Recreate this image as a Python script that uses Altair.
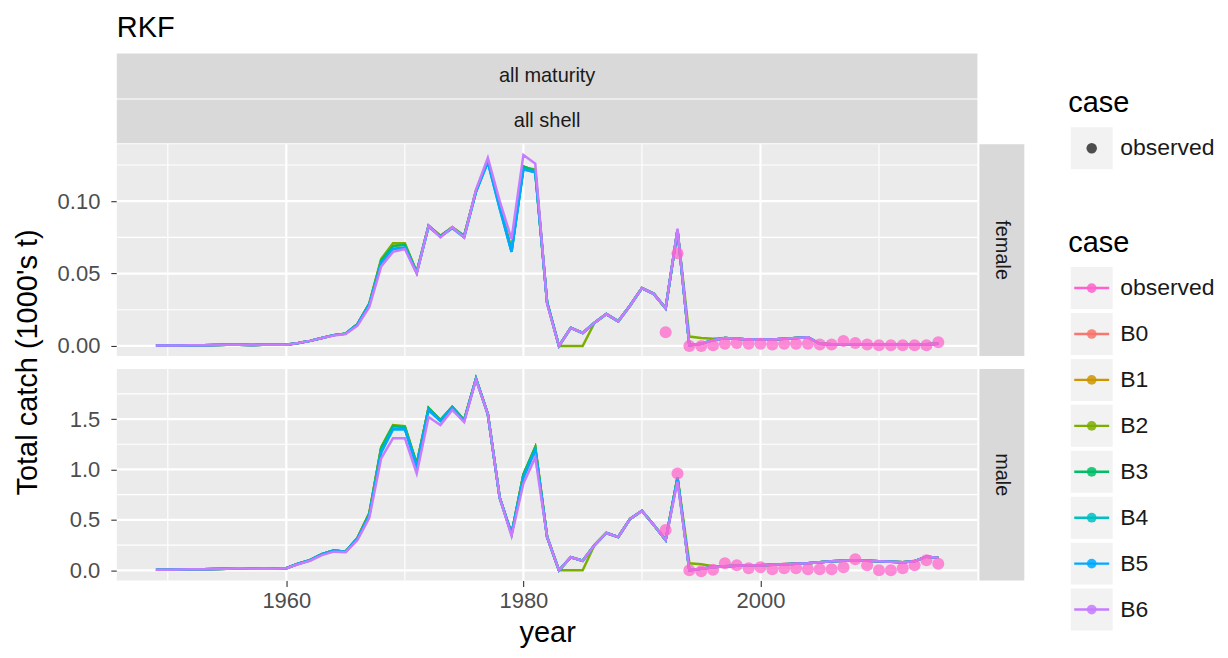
import altair as alt
import pandas as pd

# ---------------- data ----------------
years = list(range(1949, 2016))
obs_years = list(range(1992, 2016))

cases = ["observed", "B0", "B1", "B2", "B3", "B4", "B5", "B6"]
case_colors = ["#FF61CC", "#F8766D", "#CD9600", "#7CAE00", "#00BE67",
               "#00BFC4", "#00A9FF", "#C77CFF"]
model_cases = ["B0", "B1", "B2", "B3", "B4", "B5", "B6"]

# female, 1949-2015
female_base = [
    0.0003, 0.0003, 0.0004, 0.0005, 0.0005, 0.0006, 0.0008, 0.0009, 0.0007, 0.0008,
    0.0008, 0.0009, 0.0020, 0.0035, 0.0055, 0.0075, 0.0085, 0.0150, 0.0290, 0.0590,
    0.0690, 0.0700, 0.0510, 0.0830, 0.0760, 0.0820, 0.0760, 0.1070, 0.1280, 0.0970,
    0.0660, 0.1240, 0.1210, 0.0300, 0.0000, 0.0125, 0.0090, 0.0160, 0.0220, 0.0170,
    0.0280, 0.0400, 0.0360, 0.0260, 0.0800, 0.0005, 0.0015, 0.0040, 0.0055, 0.0050,
    0.0045, 0.0045, 0.0045, 0.0050, 0.0055, 0.0060, 0.0015, 0.0012, 0.0012, 0.0012,
    0.0010, 0.0010, 0.0010, 0.0010, 0.0010, 0.0012, 0.0015]
female_B2 = [
    0.0003, 0.0003, 0.0004, 0.0005, 0.0005, 0.0006, 0.0008, 0.0009, 0.0007, 0.0008,
    0.0008, 0.0009, 0.0020, 0.0035, 0.0055, 0.0075, 0.0085, 0.0150, 0.0295, 0.0600,
    0.0710, 0.0710, 0.0510, 0.0830, 0.0760, 0.0820, 0.0760, 0.1070, 0.1280, 0.0970,
    0.0660, 0.1230, 0.1220, 0.0300, 0.0000, 0.0000, 0.0000, 0.0160, 0.0220, 0.0170,
    0.0280, 0.0400, 0.0360, 0.0260, 0.0800, 0.0065, 0.0055, 0.0050, 0.0055, 0.0050,
    0.0045, 0.0045, 0.0045, 0.0050, 0.0055, 0.0060, 0.0015, 0.0012, 0.0012, 0.0012,
    0.0010, 0.0010, 0.0010, 0.0010, 0.0010, 0.0012, 0.0015]
female_teal = [
    0.0003, 0.0003, 0.0004, 0.0005, 0.0005, 0.0006, 0.0008, 0.0009, 0.0007, 0.0008,
    0.0008, 0.0009, 0.0020, 0.0035, 0.0055, 0.0075, 0.0085, 0.0150, 0.0285, 0.0570,
    0.0670, 0.0680, 0.0505, 0.0825, 0.0755, 0.0815, 0.0750, 0.1065, 0.1270, 0.0950,
    0.0650, 0.1220, 0.1200, 0.0300, 0.0000, 0.0125, 0.0090, 0.0160, 0.0220, 0.0170,
    0.0280, 0.0400, 0.0360, 0.0260, 0.0800, 0.0005, 0.0015, 0.0040, 0.0055, 0.0050,
    0.0045, 0.0045, 0.0045, 0.0050, 0.0055, 0.0060, 0.0015, 0.0012, 0.0012, 0.0012,
    0.0010, 0.0010, 0.0010, 0.0010, 0.0010, 0.0012, 0.0015]
female_B6 = [
    0.0003, 0.0003, 0.0004, 0.0005, 0.0005, 0.0006, 0.0008, 0.0009, 0.0007, 0.0008,
    0.0008, 0.0009, 0.0020, 0.0035, 0.0055, 0.0072, 0.0082, 0.0140, 0.0270, 0.0550,
    0.0650, 0.0670, 0.0500, 0.0830, 0.0750, 0.0820, 0.0750, 0.1080, 0.1300, 0.1000,
    0.0740, 0.1320, 0.1260, 0.0290, 0.0000, 0.0125, 0.0090, 0.0160, 0.0220, 0.0170,
    0.0280, 0.0400, 0.0360, 0.0260, 0.0810, 0.0005, 0.0015, 0.0040, 0.0055, 0.0050,
    0.0045, 0.0045, 0.0045, 0.0050, 0.0055, 0.0060, 0.0015, 0.0012, 0.0012, 0.0012,
    0.0010, 0.0010, 0.0010, 0.0010, 0.0010, 0.0012, 0.0015]

# male, 1949-2015
male_base = [
    0.005, 0.005, 0.008, 0.010, 0.010, 0.012, 0.015, 0.020, 0.015, 0.018,
    0.016, 0.020, 0.065, 0.100, 0.160, 0.195, 0.185, 0.320, 0.560, 1.210,
    1.430, 1.420, 1.050, 1.610, 1.490, 1.620, 1.490, 1.900, 1.550, 0.720,
    0.360, 0.950, 1.220, 0.330, 0.000, 0.130, 0.095, 0.250, 0.370, 0.330,
    0.510, 0.590, 0.450, 0.300, 0.920, 0.000, 0.015, 0.030, 0.040, 0.045,
    0.050, 0.050, 0.055, 0.060, 0.065, 0.070, 0.080, 0.090, 0.095, 0.100,
    0.095, 0.090, 0.085, 0.080, 0.090, 0.135, 0.125]
male_B2 = [
    0.005, 0.005, 0.008, 0.010, 0.010, 0.012, 0.015, 0.020, 0.015, 0.018,
    0.016, 0.020, 0.065, 0.100, 0.160, 0.195, 0.185, 0.320, 0.570, 1.220,
    1.440, 1.430, 1.060, 1.610, 1.490, 1.620, 1.490, 1.900, 1.550, 0.720,
    0.360, 0.950, 1.220, 0.330, 0.000, 0.000, 0.000, 0.250, 0.370, 0.330,
    0.510, 0.590, 0.450, 0.300, 0.920, 0.070, 0.060, 0.040, 0.040, 0.045,
    0.050, 0.050, 0.055, 0.060, 0.065, 0.070, 0.080, 0.090, 0.095, 0.100,
    0.095, 0.090, 0.085, 0.080, 0.090, 0.135, 0.125]
male_teal = [
    0.005, 0.005, 0.008, 0.010, 0.010, 0.012, 0.015, 0.020, 0.015, 0.018,
    0.016, 0.020, 0.065, 0.100, 0.160, 0.195, 0.185, 0.315, 0.545, 1.170,
    1.400, 1.400, 1.030, 1.590, 1.480, 1.610, 1.480, 1.900, 1.550, 0.720,
    0.360, 0.920, 1.190, 0.330, 0.000, 0.130, 0.095, 0.250, 0.370, 0.330,
    0.510, 0.590, 0.450, 0.300, 0.910, 0.000, 0.015, 0.030, 0.040, 0.045,
    0.050, 0.050, 0.055, 0.060, 0.065, 0.070, 0.080, 0.090, 0.095, 0.100,
    0.095, 0.090, 0.085, 0.080, 0.090, 0.135, 0.125]
male_B6 = [
    0.005, 0.005, 0.008, 0.010, 0.010, 0.012, 0.015, 0.020, 0.015, 0.018,
    0.016, 0.020, 0.060, 0.095, 0.150, 0.185, 0.180, 0.300, 0.520, 1.110,
    1.310, 1.310, 0.960, 1.520, 1.440, 1.590, 1.470, 1.890, 1.550, 0.720,
    0.340, 0.860, 1.120, 0.330, 0.000, 0.130, 0.095, 0.250, 0.370, 0.330,
    0.510, 0.590, 0.450, 0.300, 0.880, 0.000, 0.015, 0.030, 0.040, 0.045,
    0.050, 0.050, 0.055, 0.060, 0.065, 0.070, 0.080, 0.090, 0.095, 0.100,
    0.095, 0.090, 0.085, 0.080, 0.090, 0.135, 0.125]

# observed, 1992-2015
obs_female = [0.0095, 0.0640, 0.0000, 0.0000, 0.0005, 0.0015, 0.0020, 0.0015,
              0.0015, 0.0010, 0.0015, 0.0015, 0.0015, 0.0010, 0.0010, 0.0035,
              0.0020, 0.0010, 0.0005, 0.0005, 0.0005, 0.0005, 0.0005, 0.0025]
obs_male = [0.40, 0.96, 0.00, -0.01, 0.005, 0.07, 0.05, 0.02,
            0.03, 0.01, 0.02, 0.02, 0.01, 0.01, 0.01, 0.03,
            0.11, 0.05, 0.00, 0.00, 0.02, 0.05, 0.10, 0.065]

female_series = {"B0": female_base, "B1": female_base, "B2": female_B2,
                 "B3": female_base, "B4": female_teal, "B5": female_teal,
                 "B6": female_B6}
male_series = {"B0": male_base, "B1": male_base, "B2": male_B2,
               "B3": male_base, "B4": male_teal, "B5": male_teal,
               "B6": male_B6}

x_major = [1960, 1980, 2000]
x_minor = [1950, 1970, 1990, 2010]
x_domain = [1945.7, 2018.3]
female_major = [0.0, 0.05, 0.10]
female_minor = [0.025, 0.075, 0.125]
female_domain = [-0.0069, 0.1393]
male_major = [0.0, 0.5, 1.0, 1.5]
male_minor = [0.25, 0.75, 1.25, 1.75]
male_domain = [-0.102, 1.997]

title_text = "RKF"
y_title = "Total catch (1000's t)"
x_title = "year"
top_strips = ["all maturity", "all shell"]

# ---------------- style ----------------
FONT = "Liberation Sans"
PW, PH = 862, 212
GAP = 13
PANEL_BG = "#EBEBEB"
STRIP_BG = "#D9D9D9"
NOVIEW = alt.ViewBackground(strokeWidth=0, stroke="transparent")

color_scale = alt.Scale(domain=cases, range=case_colors)
x_scale = alt.Scale(domain=x_domain, nice=False, zero=False)


def make_panel(sex, series, obs_vals, y_domain, y_major, y_minor, y_fmt, is_top):
    rows = []
    for c in model_cases:
        for yr, v in zip(years, series[c]):
            rows.append({"case": c, "year": yr, "value": v})
    lines_df = pd.DataFrame(rows)
    obs_df = pd.DataFrame({"case": "observed", "year": obs_years, "value": obs_vals})

    y_scale = alt.Scale(domain=y_domain, nice=False, zero=False)
    y_axis = alt.Axis(values=y_major, format=y_fmt, title=None, grid=False,
                      domain=False, tickColor="#333333", tickSize=6, tickWidth=1.1,
                      labelFontSize=22, labelColor="#4D4D4D", labelPadding=11,
                      labelFont=FONT)
    if is_top:
        x_axis = None
    else:
        x_axis = alt.Axis(values=x_major, format="d", title=x_title, grid=False,
                          domain=False, tickColor="#333333", tickSize=6,
                          tickWidth=1.1, labelFontSize=22, labelColor="#4D4D4D",
                          labelPadding=4, labelFont=FONT, titleFontSize=29,
                          titleFontWeight="normal", titleColor="#000000",
                          titleFont=FONT, titlePadding=7)

    X = lambda f: alt.X(f, scale=x_scale, axis=x_axis)
    Y = lambda f: alt.Y(f, scale=y_scale, axis=y_axis)

    one = pd.DataFrame({"k": [sex]})
    bg = alt.Chart(one).mark_rect(color=PANEL_BG).encode(
        x=alt.value(0), x2=alt.value(PW), y=alt.value(0), y2=alt.value(PH))

    vmin = alt.Chart(pd.DataFrame({"v": x_minor})).mark_rule(
        color="white", strokeWidth=1.1).encode(x=X("v:Q"))
    vmaj = alt.Chart(pd.DataFrame({"v": x_major})).mark_rule(
        color="white", strokeWidth=2.2).encode(x=X("v:Q"))
    hmin = alt.Chart(pd.DataFrame({"v": y_minor})).mark_rule(
        color="white", strokeWidth=1.1).encode(y=Y("v:Q"))
    hmaj = alt.Chart(pd.DataFrame({"v": y_major})).mark_rule(
        color="white", strokeWidth=2.2).encode(y=Y("v:Q"))

    lines = alt.Chart(lines_df).mark_line(strokeWidth=2.5).encode(
        x=X("year:Q"), y=Y("value:Q"),
        color=alt.Color("case:N", scale=color_scale, legend=None))
    points = alt.Chart(obs_df).mark_circle(size=145, opacity=0.72).encode(
        x=X("year:Q"), y=Y("value:Q"),
        color=alt.Color("case:N", scale=color_scale, legend=None))

    # right strip
    rstrip = alt.Chart(one).mark_rect(color=STRIP_BG).encode(
        x=alt.value(PW + 2), x2=alt.value(PW + 47), y=alt.value(0), y2=alt.value(PH))
    rtext = alt.Chart(one).mark_text(fontSize=20, font=FONT, color="#1A1A1A",
                                     angle=90, align="center", baseline="middle").encode(
        x=alt.value(PW + 24.5), y=alt.value(PH / 2), text="k:N")

    layers = [bg, vmin, vmaj, hmin, hmaj, lines, points, rstrip, rtext]

    if is_top:
        s1 = pd.DataFrame({"label": [top_strips[0]]})
        s2 = pd.DataFrame({"label": [top_strips[1]]})
        layers += [
            alt.Chart(s1).mark_rect(color=STRIP_BG).encode(
                x=alt.value(0), x2=alt.value(PW), y=alt.value(-91), y2=alt.value(-46)),
            alt.Chart(s2).mark_rect(color=STRIP_BG).encode(
                x=alt.value(0), x2=alt.value(PW), y=alt.value(-45), y2=alt.value(-1)),
            alt.Chart(s1).mark_text(fontSize=20, font=FONT, color="#1A1A1A",
                                    baseline="middle").encode(
                x=alt.value(PW / 2), y=alt.value(-68.5), text="label:N"),
            alt.Chart(s2).mark_text(fontSize=20, font=FONT, color="#1A1A1A",
                                    baseline="middle").encode(
                x=alt.value(PW / 2), y=alt.value(-23), text="label:N"),
            alt.Chart(pd.DataFrame({"t": [y_title]})).mark_text(
                fontSize=29, font=FONT, color="#000000", angle=270,
                align="center", baseline="middle").encode(
                x=alt.value(-88.5), y=alt.value(PH + GAP / 2), text="t:N"),
            alt.Chart(pd.DataFrame({"t": [title_text]})).mark_text(
                fontSize=29, font=FONT, color="#000000", align="left",
                baseline="alphabetic").encode(
                x=alt.value(0), y=alt.value(-107), text="t:N"),
        ]
    return alt.layer(*layers).properties(width=PW, height=PH, view=NOVIEW)


top = make_panel("female", female_series, obs_female, female_domain,
                 female_major, female_minor, ".2f", True)
bottom = make_panel("male", male_series, obs_male, male_domain,
                    male_major, male_minor, ".1f", False)

# ---------------- legend (drawn beside the top panel, extends downward) ----------------
leg_df = pd.DataFrame({"case": cases})
ly = alt.Y("case:N", sort=cases,
           scale=alt.Scale(type="point", domain=cases, range=[144, 466], padding=0),
           axis=None)
lcol = alt.Color("case:N", scale=color_scale, legend=None)
leg_keys = alt.Chart(leg_df).mark_square(size=42 * 42, color="#F2F2F2", opacity=1).encode(
    x=alt.value(21.5), y=ly)
leg_rules = alt.Chart(leg_df).mark_rule(strokeWidth=2.4).encode(
    x=alt.value(4), x2=alt.value(39), y=ly, color=lcol)
leg_pts = alt.Chart(leg_df).mark_circle(size=95, opacity=0.85).encode(
    x=alt.value(21.5), y=ly, color=lcol)
leg_labels = alt.Chart(leg_df).mark_text(fontSize=23, font=FONT, color="#1A1A1A",
                                         align="left", baseline="middle").encode(
    x=alt.value(50), y=ly, text="case:N")
leg_title2 = alt.Chart(pd.DataFrame({"t": ["case"]})).mark_text(
    fontSize=29, font=FONT, color="#000000", align="left", baseline="alphabetic").encode(
    x=alt.value(-2), y=alt.value(108), text="t:N")

obs_leg = pd.DataFrame({"case": ["observed"]})
leg_title1 = alt.Chart(pd.DataFrame({"t": ["case"]})).mark_text(
    fontSize=29, font=FONT, color="#000000", align="left", baseline="alphabetic").encode(
    x=alt.value(-2), y=alt.value(-32), text="t:N")
leg1_key = alt.Chart(obs_leg).mark_square(size=42 * 42, color="#F2F2F2", opacity=1).encode(
    x=alt.value(21.5), y=alt.value(4))
leg1_pt = alt.Chart(obs_leg).mark_circle(size=110, color="#4D4D4D", opacity=1).encode(
    x=alt.value(21.5), y=alt.value(4))
leg1_label = alt.Chart(obs_leg).mark_text(fontSize=23, font=FONT, color="#1A1A1A",
                                          align="left", baseline="middle").encode(
    x=alt.value(50), y=alt.value(4), text="case:N")

legend = alt.layer(leg_title1, leg1_key, leg1_pt, leg1_label, leg_title2,
                   leg_keys, leg_rules, leg_pts, leg_labels).properties(
    width=150, height=PH, view=NOVIEW)

chart = alt.concat(top, legend, bottom, columns=2, bounds="flush",
                   spacing={"row": GAP, "column": 93},
                   padding={"left": 6, "top": 6, "right": 0, "bottom": 0}
                   ).configure_view(strokeWidth=0, stroke="transparent"
                   ).configure(font=FONT)

chart.save("out.html", embed_options={"renderer": "svg", "actions": False})
